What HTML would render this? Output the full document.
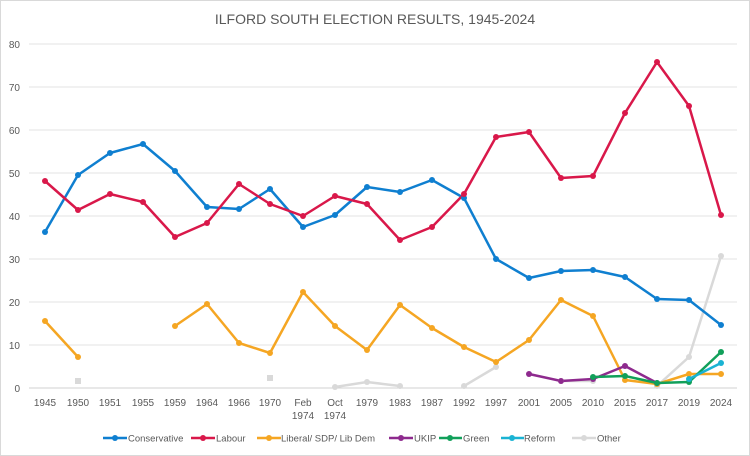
<!DOCTYPE html><html><head><style>body{margin:0;background:#fff}svg{display:block;font-family:"Liberation Sans",sans-serif}</style></head><body>
<svg width="750" height="456" viewBox="0 0 750 456">
<rect x="0.5" y="0.5" width="749" height="455" fill="#fff" stroke="#d9d9d9"/>
<text x="375" y="24" font-size="14" fill="#595959" text-anchor="middle">ILFORD SOUTH ELECTION RESULTS, 1945-2024</text>
<g stroke="#e3e3e3" stroke-width="1">
<line x1="29" x2="737" y1="44" y2="44"/><line x1="29" x2="737" y1="87" y2="87"/><line x1="29" x2="737" y1="130" y2="130"/><line x1="29" x2="737" y1="173" y2="173"/><line x1="29" x2="737" y1="216" y2="216"/><line x1="29" x2="737" y1="259" y2="259"/><line x1="29" x2="737" y1="302" y2="302"/><line x1="29" x2="737" y1="345" y2="345"/><line x1="29" x2="737" y1="388" y2="388" stroke="#d0d0d0"/>
</g>
<g font-size="10" fill="#595959" text-anchor="end">
<text x="20" y="48">80</text><text x="20" y="91">70</text><text x="20" y="134">60</text><text x="20" y="177">50</text><text x="20" y="220">40</text><text x="20" y="263">30</text><text x="20" y="306">20</text><text x="20" y="349">10</text><text x="20" y="392">0</text>
</g>
<g font-size="10" fill="#595959" text-anchor="middle">
<text x="45" y="406">1945</text><text x="78" y="406">1950</text><text x="110" y="406">1951</text><text x="143" y="406">1955</text><text x="175" y="406">1959</text><text x="207" y="406">1964</text><text x="239" y="406">1966</text><text x="270" y="406">1970</text><text x="303" y="406">Feb</text><text x="303" y="419">1974</text><text x="335" y="406">Oct</text><text x="335" y="419">1974</text><text x="367" y="406">1979</text><text x="400" y="406">1983</text><text x="432" y="406">1987</text><text x="464" y="406">1992</text><text x="496" y="406">1997</text><text x="529" y="406">2001</text><text x="561" y="406">2005</text><text x="593" y="406">2010</text><text x="625" y="406">2015</text><text x="657" y="406">2017</text><text x="689" y="406">2019</text><text x="721" y="406">2024</text>
</g>
<g fill="none" stroke-width="2.5" stroke-linejoin="round">
<polyline stroke="#d9d9d9" points="335,387 367,382 400,386"/>
<polyline stroke="#d9d9d9" points="464,386 496,367"/>
<polyline stroke="#d9d9d9" points="561,381 593,381"/>
<polyline stroke="#d9d9d9" points="657,386 689,357 721,256"/>
<polyline stroke="#0f7fd0" points="45,232 78,175 110,153 143,144 175,171 207,207 239,209 270,189 303,227 335,215 367,187 400,192 432,180 464,198 496,259 529,278 561,271 593,270 625,277 657,299 689,300 721,325"/>
<polyline stroke="#d9184a" points="45,181 78,210 110,194 143,202 175,237 207,223 239,184 270,204 303,216 335,196 367,204 400,240 432,227 464,194 496,137 529,132 561,178 593,176 625,113 657,62 689,106 721,215"/>
<polyline stroke="#f5a623" points="45,321 78,357"/>
<polyline stroke="#f5a623" points="175,326 207,304 239,343 270,353 303,292 335,326 367,350 400,305 432,328 464,347 496,362 529,340 561,300 593,316 625,380 657,384 689,374 721,374"/>
<polyline stroke="#8e2a8e" points="529,374 561,381 593,379 625,366 657,383"/>
<polyline stroke="#11a05a" points="593,377 625,376 657,383 689,382 721,352"/>
<polyline stroke="#1ab3d3" points="689,379 721,363"/>
</g>
<g fill="#d9d9d9"><rect x="75" y="378" width="6" height="6"/><rect x="267" y="375" width="6" height="6"/><circle cx="335" cy="387" r="3"/><circle cx="367" cy="382" r="3"/><circle cx="400" cy="386" r="3"/><circle cx="464" cy="386" r="3"/><circle cx="496" cy="367" r="3"/><circle cx="561" cy="381" r="3"/><circle cx="593" cy="381" r="3"/><circle cx="657" cy="386" r="3"/><circle cx="689" cy="357" r="3"/><circle cx="721" cy="256" r="3"/></g>
<g fill="#0f7fd0"><circle cx="45" cy="232" r="3"/><circle cx="78" cy="175" r="3"/><circle cx="110" cy="153" r="3"/><circle cx="143" cy="144" r="3"/><circle cx="175" cy="171" r="3"/><circle cx="207" cy="207" r="3"/><circle cx="239" cy="209" r="3"/><circle cx="270" cy="189" r="3"/><circle cx="303" cy="227" r="3"/><circle cx="335" cy="215" r="3"/><circle cx="367" cy="187" r="3"/><circle cx="400" cy="192" r="3"/><circle cx="432" cy="180" r="3"/><circle cx="464" cy="198" r="3"/><circle cx="496" cy="259" r="3"/><circle cx="529" cy="278" r="3"/><circle cx="561" cy="271" r="3"/><circle cx="593" cy="270" r="3"/><circle cx="625" cy="277" r="3"/><circle cx="657" cy="299" r="3"/><circle cx="689" cy="300" r="3"/><circle cx="721" cy="325" r="3"/></g>
<g fill="#d9184a"><circle cx="45" cy="181" r="3"/><circle cx="78" cy="210" r="3"/><circle cx="110" cy="194" r="3"/><circle cx="143" cy="202" r="3"/><circle cx="175" cy="237" r="3"/><circle cx="207" cy="223" r="3"/><circle cx="239" cy="184" r="3"/><circle cx="270" cy="204" r="3"/><circle cx="303" cy="216" r="3"/><circle cx="335" cy="196" r="3"/><circle cx="367" cy="204" r="3"/><circle cx="400" cy="240" r="3"/><circle cx="432" cy="227" r="3"/><circle cx="464" cy="194" r="3"/><circle cx="496" cy="137" r="3"/><circle cx="529" cy="132" r="3"/><circle cx="561" cy="178" r="3"/><circle cx="593" cy="176" r="3"/><circle cx="625" cy="113" r="3"/><circle cx="657" cy="62" r="3"/><circle cx="689" cy="106" r="3"/><circle cx="721" cy="215" r="3"/></g>
<g fill="#f5a623"><circle cx="45" cy="321" r="3"/><circle cx="78" cy="357" r="3"/><circle cx="175" cy="326" r="3"/><circle cx="207" cy="304" r="3"/><circle cx="239" cy="343" r="3"/><circle cx="270" cy="353" r="3"/><circle cx="303" cy="292" r="3"/><circle cx="335" cy="326" r="3"/><circle cx="367" cy="350" r="3"/><circle cx="400" cy="305" r="3"/><circle cx="432" cy="328" r="3"/><circle cx="464" cy="347" r="3"/><circle cx="496" cy="362" r="3"/><circle cx="529" cy="340" r="3"/><circle cx="561" cy="300" r="3"/><circle cx="593" cy="316" r="3"/><circle cx="625" cy="380" r="3"/><circle cx="657" cy="384" r="3"/><circle cx="689" cy="374" r="3"/><circle cx="721" cy="374" r="3"/></g>
<g fill="#8e2a8e"><circle cx="529" cy="374" r="3"/><circle cx="561" cy="381" r="3"/><circle cx="593" cy="379" r="3"/><circle cx="625" cy="366" r="3"/><circle cx="657" cy="383" r="3"/></g>
<g fill="#11a05a"><circle cx="593" cy="377" r="3"/><circle cx="625" cy="376" r="3"/><circle cx="657" cy="383" r="3"/><circle cx="689" cy="382" r="3"/><circle cx="721" cy="352" r="3"/></g>
<g fill="#1ab3d3"><circle cx="689" cy="379" r="3"/><circle cx="721" cy="363" r="3"/></g>
<g font-size="9.5" fill="#595959" stroke-width="2.5">
<line x1="103" x2="127" y1="438" y2="438" stroke="#0f7fd0"/><circle cx="115" cy="438" r="3" fill="#0f7fd0"/><text x="128" y="441.5">Conservative</text>
<line x1="191" x2="215" y1="438" y2="438" stroke="#d9184a"/><circle cx="203" cy="438" r="3" fill="#d9184a"/><text x="216" y="441.5">Labour</text>
<line x1="257" x2="281" y1="438" y2="438" stroke="#f5a623"/><circle cx="269" cy="438" r="3" fill="#f5a623"/><text x="281" y="441.5">Liberal/ SDP/ Lib Dem</text>
<line x1="389" x2="413" y1="438" y2="438" stroke="#8e2a8e"/><circle cx="401" cy="438" r="3" fill="#8e2a8e"/><text x="414" y="441.5">UKIP</text>
<line x1="439" x2="462" y1="438" y2="438" stroke="#11a05a"/><circle cx="450" cy="438" r="3" fill="#11a05a"/><text x="463" y="441.5">Green</text>
<line x1="501" x2="524" y1="438" y2="438" stroke="#1ab3d3"/><circle cx="512" cy="438" r="3" fill="#1ab3d3"/><text x="524" y="441.5">Reform</text>
<line x1="572" x2="596" y1="438" y2="438" stroke="#d9d9d9"/><circle cx="584" cy="438" r="3" fill="#d9d9d9"/><text x="597" y="441.5">Other</text>
</g>
</svg></body></html>
